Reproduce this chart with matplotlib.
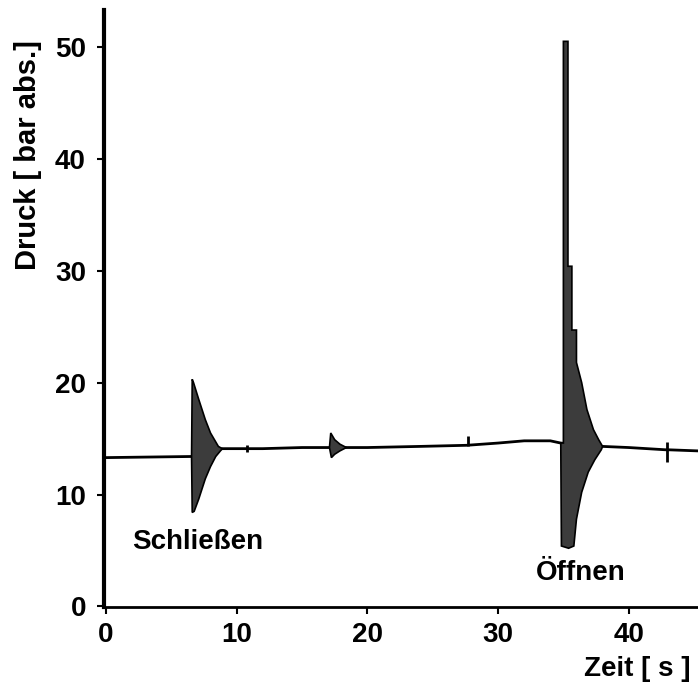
import numpy as np
import matplotlib
matplotlib.use("Agg")
import matplotlib.pyplot as plt

plt.rcParams["font.family"] = ["Liberation Sans", "DejaVu Sans"]
plt.rcParams["font.weight"] = "bold"

# ruhige Grundlinie (Zeit in s, Druck in bar abs.)
base_t = [0, 6.55, 8.9, 10.0, 12.0, 15.0, 17.1, 18.4, 20.0, 24.0, 27.6, 30.0, 32.0, 34.0, 34.8,
          38.0, 40.0, 42.8, 43.0, 45.3]
base_p = [13.3, 13.4, 14.1, 14.1, 14.1, 14.2, 14.2, 14.2, 14.2, 14.3, 14.4, 14.6, 14.8, 14.8, 14.6,
          14.3, 14.2, 14.0, 14.0, 13.9]

# kleine Zacken auf der Grundlinie
blip_t = [10.8, 27.7, 42.9]
blip_lo = [13.8, 14.3, 12.9]
blip_hi = [14.4, 15.2, 14.7]

# Schliessen: Huellkurve der Schwingung
sc_hi_t = [6.55, 6.6, 6.7, 7.1, 7.6, 8.0, 8.6, 8.9]
sc_hi_p = [13.4, 20.3, 20.0, 18.5, 16.7, 15.5, 14.3, 14.1]
sc_lo_t = [6.55, 6.6, 6.75, 7.1, 7.6, 8.0, 8.4, 8.9]
sc_lo_p = [13.4, 8.4, 8.5, 9.6, 11.4, 12.5, 13.4, 14.1]

# kleine Schwingung bei ca. 17 s
mid_hi_t = [17.1, 17.2, 17.5, 17.9, 18.4]
mid_hi_p = [14.2, 15.5, 14.9, 14.5, 14.2]
mid_lo_t = [17.1, 17.25, 17.5, 17.9, 18.4]
mid_lo_p = [14.2, 13.3, 13.6, 13.9, 14.2]

# Oeffnen: Druckspitze und abklingende Schwingung
op_hi_t = [34.8, 35.0, 35.0, 35.35, 35.35, 35.65, 35.65, 36.0, 36.0, 36.4, 36.8, 37.3, 37.7, 38.0]
op_hi_p = [14.6, 14.6, 50.5, 50.5, 30.4, 30.4, 24.7, 24.7, 21.8, 20.0, 17.6, 15.8, 14.9, 14.3]
op_lo_t = [34.8, 34.85, 35.4, 35.8, 36.0, 36.4, 36.9, 37.4, 37.9, 38.0]
op_lo_p = [14.6, 5.4, 5.2, 5.4, 7.8, 10.2, 12.0, 13.1, 14.0, 14.3]

fig = plt.figure(figsize=(6.98, 6.90), dpi=100)
ax = fig.add_axes([0.149, 0.1203, 0.851, 0.8652])

ax.plot(base_t, base_p, color="black", lw=2, zorder=2)
ax.vlines(blip_t, blip_lo, blip_hi, color="black", lw=2, zorder=2)

for hi_t, hi_p, lo_t, lo_p in [(sc_hi_t, sc_hi_p, sc_lo_t, sc_lo_p),
                               (mid_hi_t, mid_hi_p, mid_lo_t, mid_lo_p),
                               (op_hi_t, op_hi_p, op_lo_t, op_lo_p)]:
    xs = np.r_[hi_t, lo_t[::-1]]
    ys = np.r_[hi_p, lo_p[::-1]]
    ax.fill(xs, ys, facecolor="#3c3c3c", edgecolor="black", lw=1.2, zorder=3)

ax.text(7.0, 5.8, "Schließen", fontsize=20, fontweight="bold", ha="center", va="center")
ax.text(36.3, 3.0, "Öffnen", fontsize=20, fontweight="bold", ha="center", va="center")

ax.set_xlim(-0.15, 45.3)
ax.set_ylim(-0.05, 53.3)
ax.set_xticks([0, 10, 20, 30, 40])
ax.set_yticks([0, 10, 20, 30, 40, 50])
ax.tick_params(direction="out", length=5, width=1.5, labelsize=20)
ax.tick_params(axis="y", pad=8)
ax.tick_params(axis="x", pad=6)
for lab in ax.get_xticklabels() + ax.get_yticklabels():
    lab.set_fontweight("bold")

ax.spines["top"].set_visible(False)
ax.spines["right"].set_visible(False)
ax.spines["left"].set_linewidth(3)
ax.spines["bottom"].set_linewidth(2)

fig.text(0.04, 0.775, "Druck [ bar abs.]", rotation=90, fontsize=21, fontweight="bold",
         ha="center", va="center")
fig.text(0.913, 0.03, "Zeit [ s ]", fontsize=20, fontweight="bold", ha="center", va="center")

fig.savefig("out.png", dpi=100)
